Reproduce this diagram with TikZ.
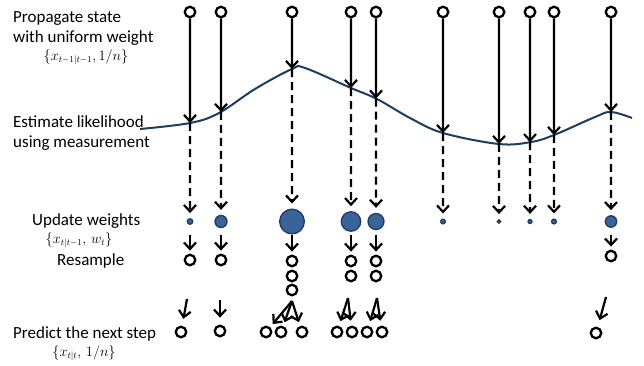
\documentclass[tikz,border=0pt]{standalone}
\usepackage{fontspec}
\setmainfont{Carlito}
\usetikzlibrary{arrows.meta,intersections}
\definecolor{navy}{HTML}{1F3B63}
\definecolor{wfill}{HTML}{3A6399}
\begin{document}
\begin{tikzpicture}[x=1pt,y=-1pt,
  part/.style={circle,draw=black,line width=2.3pt,fill=white,minimum size=10.5pt,inner sep=0pt},
  wt/.style={circle,draw=navy,line width=1.3pt,fill=wfill,inner sep=0pt,minimum size=#1},
  arr/.style={line width=2.2pt,-{Straight Barb[length=6.5pt,width=12pt]}},
  darr/.style={arr,dash pattern=on 8pt off 5pt},
  curvestyle/.style={draw=navy,line width=2pt},
  lbl/.style={font=\fontsize{17}{20}\selectfont,anchor=base west,inner sep=0pt},
  mlbl/.style={font=\fontsize{13.5}{15}\selectfont,inner sep=0pt}]
\useasboundingbox (0,0) rectangle (644,365);

% labels
\node[lbl] (l1) at (13,22) {Propagate state};
\node[lbl] (l2) at (13,42) {with uniform weight};
\node[mlbl] (m1) at (86,57) {$\{x_{t-1|t-1},1/n\}$};
\node[lbl] (l3) at (13,127) {Estimate likelihood};
\node[lbl] (l4) at (13,147) {using measurement};
\node[lbl] (l5) at (32,225) {Update weights};
\node[mlbl] (m2) at (79,240) {$\{x_{t|t-1},\,w_t\}$};
\node[lbl] (l6) at (57,265) {Resample};
\node[lbl] (l7) at (13,338) {Predict the next step};
\node[mlbl] (m3) at (84,353) {$\{x_{t|t},\,1/n\}$};

% likelihood curve
\draw[curvestyle, name path=curve] plot[smooth, tension=0.6] coordinates {
  (140,129) (190,123) (219,113) (255,89) (292,69) (305,68) (351,88) (377,99)
  (410,118) (443,133) (499,144) (531,142) (554,135) (595,117) (611,112) (632,118)};

% top particles, propagation arrows and weights
\foreach \i/\x/\d in {1/190/5.5pt,2/221/12pt,3/292/24.7pt,4/351/19.4pt,5/376/16pt,
                      6/443/4.7pt,7/499/3.6pt,8/530/4pt,9/554/4.8pt,10/611/11.4pt} {
  \node[part] (t\i) at (\x,12) {};
  \path[name path=v\i] (\x,0) -- (\x,365);
  \path[name intersections={of=curve and v\i, by={c\i}}];
  \draw[arr] (t\i) -- (c\i);
  \node[wt=\d] (w\i) at (\x,221.5) {};
  \draw[darr, shorten >=5pt] (c\i) -- (w\i);
}

% resampled particles
\node[part] (r1) at (190,260) {};
\node[part] (r2) at (221,260) {};
\node[part] (r3) at (292,261) {};
\node[part] (r3b) at (292,276) {};
\node[part] (r3c) at (292,290) {};
\node[part] (r4) at (351,261) {};
\node[part] (r4b) at (351,276) {};
\node[part] (r5) at (376,261) {};
\node[part] (r5b) at (376,276) {};
\node[part] (r10) at (611,256) {};
\foreach \i in {1,2,3,4,5,10} {
  \draw[arr, shorten <=13pt, shorten >=3pt] (w\i.center) -- (r\i);
}

% predicted particles
\node[part] (q1) at (181,332) {};
\node[part] (q2) at (220,331) {};
\node[part] (q3a) at (266,332) {};
\node[part] (q3b) at (281,332) {};
\node[part] (q3c) at (302,332) {};
\node[part] (q4a) at (337,332) {};
\node[part] (q4b) at (352,332) {};
\node[part] (q5a) at (367,332) {};
\node[part] (q5b) at (382,332) {};
\node[part] (q10) at (596,333) {};
\coordinate (p1) at (187,299);
\coordinate (p2) at (220,300);
\coordinate (p3) at (292,301);
\coordinate (p4) at (348,298);
\coordinate (p5) at (377,298);
\coordinate (p10) at (606,297);
\draw[arr, shorten >=7pt] (p1) -- (q1);
\draw[arr, shorten >=7pt] (p2) -- (q2);
\draw[arr, shorten >=4pt] (p3) -- (q3a);
\draw[arr, shorten >=4pt] (p3) -- (q3b);
\draw[arr, shorten >=4pt] (p3) -- (q3c);
\draw[arr, shorten >=5pt] (p4) -- (q4a);
\draw[arr, shorten >=5pt] (p4) -- (q4b);
\draw[arr, shorten >=5pt] (p5) -- (q5a);
\draw[arr, shorten >=5pt] (p5) -- (q5b);
\draw[arr, shorten >=7pt] (p10) -- (q10);
\end{tikzpicture}
\end{document}
